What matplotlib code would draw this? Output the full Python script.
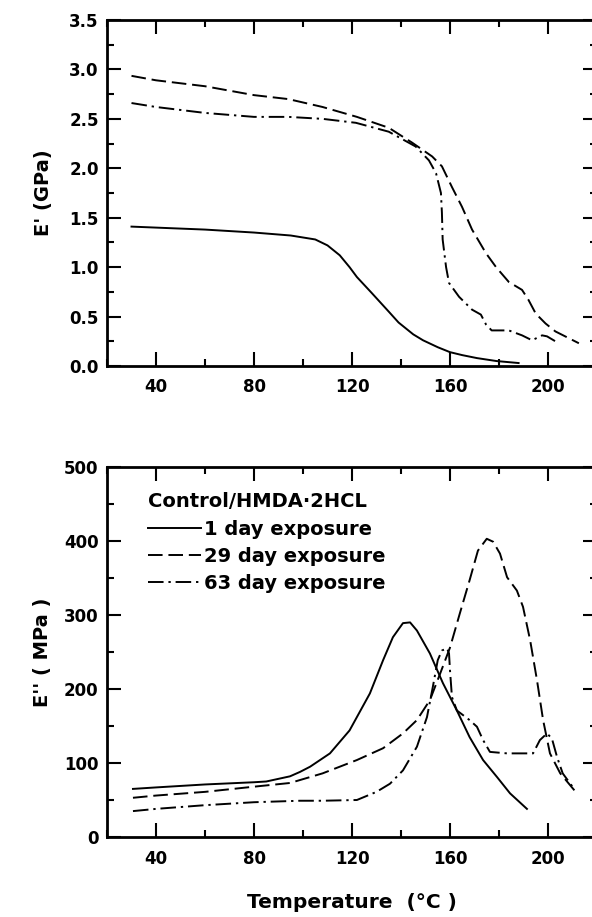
import matplotlib
matplotlib.use("Agg")
import matplotlib.pyplot as plt
from matplotlib.ticker import MultipleLocator, FixedLocator

# ---------------- data ----------------
# Top panel: storage modulus E' (GPa)
t1_x = [30, 40, 60, 80, 95, 100, 105, 110, 115, 119, 122, 128, 135, 139, 145, 149, 155, 160, 165, 171, 179, 188]
t1_y = [1.41, 1.40, 1.38, 1.35, 1.32, 1.30, 1.28, 1.22, 1.12, 1.00, 0.90, 0.74, 0.55, 0.44, 0.32, 0.26, 0.19, 0.14, 0.11, 0.08, 0.05, 0.03]

t29_x = [30, 40, 60, 80, 94, 108, 122, 135, 144.5, 152.7, 156.7, 160.8, 164.9, 169, 174.7, 178.8, 184, 189.4, 192, 195, 199, 203, 207, 212.6]
t29_y = [2.935, 2.89, 2.83, 2.74, 2.70, 2.62, 2.52, 2.41, 2.26, 2.12, 2.02, 1.81, 1.61, 1.38, 1.14, 1.00, 0.85, 0.77, 0.67, 0.53, 0.43, 0.35, 0.30, 0.23]

t63_x = [30, 40, 60, 80, 94, 108, 121.6, 135, 146, 151.4, 154.3, 156.3, 156.7, 157, 158.4, 159.6, 163.7, 169, 172.6, 174.7, 177, 184, 189.4, 193.5, 197.6, 199.6, 203]
t63_y = [2.66, 2.62, 2.56, 2.52, 2.52, 2.50, 2.46, 2.37, 2.22, 2.08, 1.95, 1.75, 1.55, 1.28, 1.00, 0.84, 0.70, 0.57, 0.52, 0.42, 0.36, 0.36, 0.31, 0.26, 0.31, 0.30, 0.25]

# Bottom panel: loss modulus E'' (MPa)
b1_x = [30.6, 40, 60, 80, 85, 94.7, 98.8, 102.9, 111, 119, 127.3, 132.7, 136.7, 140.8, 143.7, 146.5, 151.8, 157.1, 162.8, 168, 173.5, 179.2, 184.5, 191.4]
b1_y = [65, 67, 71, 74, 75, 82, 88, 95, 113, 144, 194, 239, 270, 289, 290, 279, 248, 208, 171, 135, 104, 81, 59, 38]

b29_x = [30.6, 40, 60, 80, 94.7, 108, 122, 132.7, 140.8, 146.5, 151.8, 156, 160, 164, 168, 171.4, 175, 177.6, 180.4, 183.3, 187.3, 189.8, 192.7, 195.5, 198, 200.8, 205, 211.8]
b29_y = [53, 56, 61, 68, 73, 86, 104, 120, 140, 158, 185, 221, 256, 302, 347, 387, 403, 399, 383, 351, 333, 311, 266, 212, 158, 113, 86, 59]

b63_x = [30.6, 40, 60, 80, 98.8, 108, 122, 130, 135.5, 140.8, 146.5, 150.6, 153, 155, 156.7, 158.8, 159.6, 160, 160.8, 162.8, 168, 171, 173.5, 176.3, 183.3, 189.8, 193.9, 196.7, 199.6, 201.6, 203.7, 206, 210]
b63_y = [35, 38, 43, 47, 49, 49, 50, 61, 72, 90, 122, 162, 203, 239, 252, 255, 248, 225, 189, 171, 158, 149, 131, 115, 113, 113, 113, 131, 140, 133, 108, 86, 68]

x_ticks = [40, 80, 120, 160, 200]
top_yticks = [0.0, 0.5, 1.0, 1.5, 2.0, 2.5, 3.0, 3.5]
bot_yticks = [0, 100, 200, 300, 400, 500]

legend_title = "Control/HMDA·2HCL"
labels = ["1 day exposure", "29 day exposure", "63 day exposure"]
top_ylabel = "E' (GPa)"
bot_ylabel = "E'' ( MPa )"
x_label = "Temperature  (°C )"

# ---------------- style ----------------
plt.rcParams['font.family'] = ['DejaVu Sans']
plt.rcParams['font.weight'] = 'bold'
W, H = 592, 917
fig = plt.figure(figsize=(W / 100, H / 100), dpi=100)

def px_axes(left, top, right, bottom):
    return fig.add_axes([left / W, 1 - bottom / H, (right - left) / W, (bottom - top) / H])

ax1 = px_axes(107, 20, 597, 366)
ax2 = px_axes(107, 467, 597, 837)

LW = 1.4
dash = (0, (7.5, 3))
dashdot = (0, (8, 2.5, 1.2, 2.5))
styles = ['-', dash, dashdot]

panels = [(ax1, [(t1_x, t1_y), (t29_x, t29_y), (t63_x, t63_y)]),
          (ax2, [(b1_x, b1_y), (b29_x, b29_y), (b63_x, b63_y)])]
for ax, series in panels:
    for (x, y), ls, lab in zip(series, styles, labels):
        ax.plot(x, y, color='black', lw=LW, linestyle=ls, label=lab)
    ax.set_xlim(20, 220)
    ax.xaxis.set_major_locator(FixedLocator(x_ticks))
    ax.xaxis.set_minor_locator(MultipleLocator(20))
    for s in ax.spines.values():
        s.set_linewidth(2.0)
    ax.tick_params(which='both', direction='in', top=True, right=True, width=1.5)
    ax.tick_params(which='major', length=10, labelsize=12, pad=6)
    ax.tick_params(axis='x', which='major', pad=9)
    ax.tick_params(which='minor', length=5)

ax1.set_ylim(0, 3.5)
ax1.yaxis.set_major_locator(FixedLocator(top_yticks))
ax1.yaxis.set_minor_locator(MultipleLocator(0.25))
ax1.set_yticklabels([f"{v:.1f}" for v in top_yticks])
ax1.set_ylabel(top_ylabel, fontsize=14, fontweight='bold', labelpad=12)

ax2.set_ylim(0, 500)
ax2.yaxis.set_major_locator(FixedLocator(bot_yticks))
ax2.yaxis.set_minor_locator(MultipleLocator(50))
ax2.set_yticklabels([str(v) for v in bot_yticks])
ax2.set_ylabel(bot_ylabel, fontsize=14, fontweight='bold', labelpad=9)
ax2.set_xlabel(x_label, fontsize=14.5, fontweight='bold', labelpad=18)

for ax in (ax1, ax2):
    for lbl in ax.get_xticklabels() + ax.get_yticklabels():
        lbl.set_fontweight('bold')

leg = ax2.legend(title=legend_title, loc='upper left', frameon=False,
                 handlelength=2.7, handletextpad=0.15, labelspacing=0.43,
                 borderaxespad=0.0, borderpad=0.0,
                 bbox_to_anchor=(0.084, 0.932),
                 alignment='left', prop={'size': 14, 'weight': 'bold'},
                 title_fontproperties={'size': 14, 'weight': 'bold'})

fig.savefig("out.png", dpi=100)
